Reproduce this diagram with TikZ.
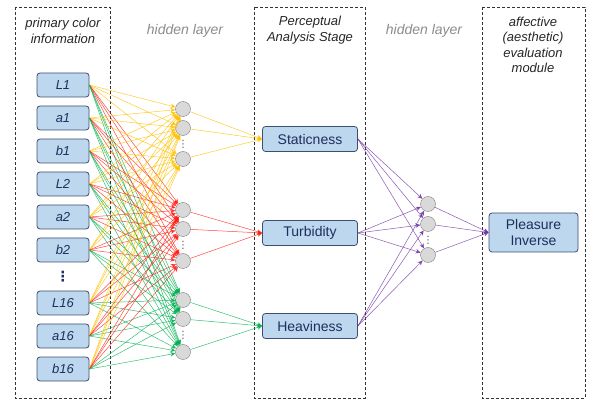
\documentclass[tikz,border=0pt]{standalone}
\usepackage{fontspec}
\setmainfont{Liberation Sans}
\newfontfamily\symfont{DejaVu Sans}
\usetikzlibrary{arrows.meta}
\definecolor{boxfill}{RGB}{189,215,238}
\definecolor{boxline}{RGB}{62,78,112}
\definecolor{boxtext}{RGB}{31,46,94}
\definecolor{cyel}{RGB}{255,192,0}
\definecolor{cred}{RGB}{255,30,20}
\definecolor{cgrn}{RGB}{0,176,80}
\definecolor{cpur}{RGB}{112,48,160}
\begin{document}
\begin{tikzpicture}[x=1pt, y=-1pt,
  inp/.style={draw=boxline, fill=boxfill, rounded corners=3pt, line width=.8pt,
    minimum width=52pt, minimum height=24pt, inner sep=0pt, text=boxtext,
    font=\itshape\fontsize{13}{15}\selectfont},
  feat/.style={inp, minimum width=95pt, minimum height=25pt, font=\fontsize{14}{16}\selectfont},
  hid/.style={circle, draw=gray, fill=gray!30, minimum size=15pt, inner sep=0pt},
  vd/.style={inner sep=0pt, text=black!70, font=\symfont\fontsize{10}{10}\selectfont},
  frame/.style={draw=black!80, line width=.8pt, dash pattern=on 3pt off 2pt},
  ttl/.style={font=\itshape\fontsize{13}{15.5}\selectfont, align=center, text=black!85},
  hl/.style={font=\itshape\fontsize{14}{16}\selectfont, text=black!45},
  con/.style={line width=.5pt, opacity=.8, -{Stealth[length=5pt,width=4.5pt]}}]
  \useasboundingbox (0,0) rectangle (590,401);
  \draw[frame] (15,7) rectangle (110,398);
  \draw[frame] (254,7) rectangle (365,398);
  \draw[frame] (482,7) rectangle (585,398);
  \node[ttl] (tin) at (63,31) {primary color\\information};
  \node[hl] (thid1) at (185,31) {hidden layer};
  \node[ttl] (tper) at (310,30) {Perceptual\\Analysis Stage};
  \node[hl] (thid2) at (424,31) {hidden layer};
  \node[ttl] (taff) at (533,45) {affective\\(aesthetic)\\evaluation\\module};
  \foreach \n/\y in {L1/85,a1/118,b1/151,L2/184,a2/217,b2/250,L16/303,a16/336,b16/369}
    \node[inp] (\n) at (63,\y) {\n};
  \node[vd, text=boxtext, font=\symfont\bfseries\fontsize{14}{14}\selectfont] (idots) at (63,277) {⋮};
  \foreach \g/\ya/\yb/\yc/\yd in {1/109/128/144/159,2/210/229/245/261,3/300/319/335/352} {
    \node[hid] (h\g1) at (183,\ya) {};
    \node[hid] (h\g2) at (183,\yb) {};
    \node[hid] (h\g3) at (183,\yd) {};
    \node[vd] (hd\g) at (183,\yc) {⋮};
  }
  \node[feat] (F1) at (310,139) {Staticness};
  \node[feat] (F2) at (310,233) {Turbidity};
  \node[feat] (F3) at (310,326) {Heaviness};
  \node[hid] (k1) at (428,204) {};
  \node[hid] (k2) at (428,224) {};
  \node[hid] (k3) at (428,255) {};
  \node[vd] (kd) at (428,240) {⋮};
  \node[feat, minimum width=89pt, minimum height=39pt, align=center] (PI) at (533.5,232.5) {Pleasure\\Inverse};
  \foreach \n in {L1,a1,b1,L2,a2,b2,L16,a16,b16}
    \foreach \g/\c in {1/cyel,2/cred,3/cgrn}
      \foreach \k in {1,2,3}
        \draw[con, \c] (\n.east) -- (h\g\k);
  \foreach \g/\c in {1/cyel,2/cred,3/cgrn}
    \foreach \k in {1,2,3} {
      \draw[con, \c] (h\g\k) -- (F\g.west);
      \draw[con, cpur] (F\g.east) -- (k\k);
    }
  \foreach \k in {1,2,3}
    \draw[con, cpur] (k\k) -- (PI.west);
\end{tikzpicture}
\end{document}
